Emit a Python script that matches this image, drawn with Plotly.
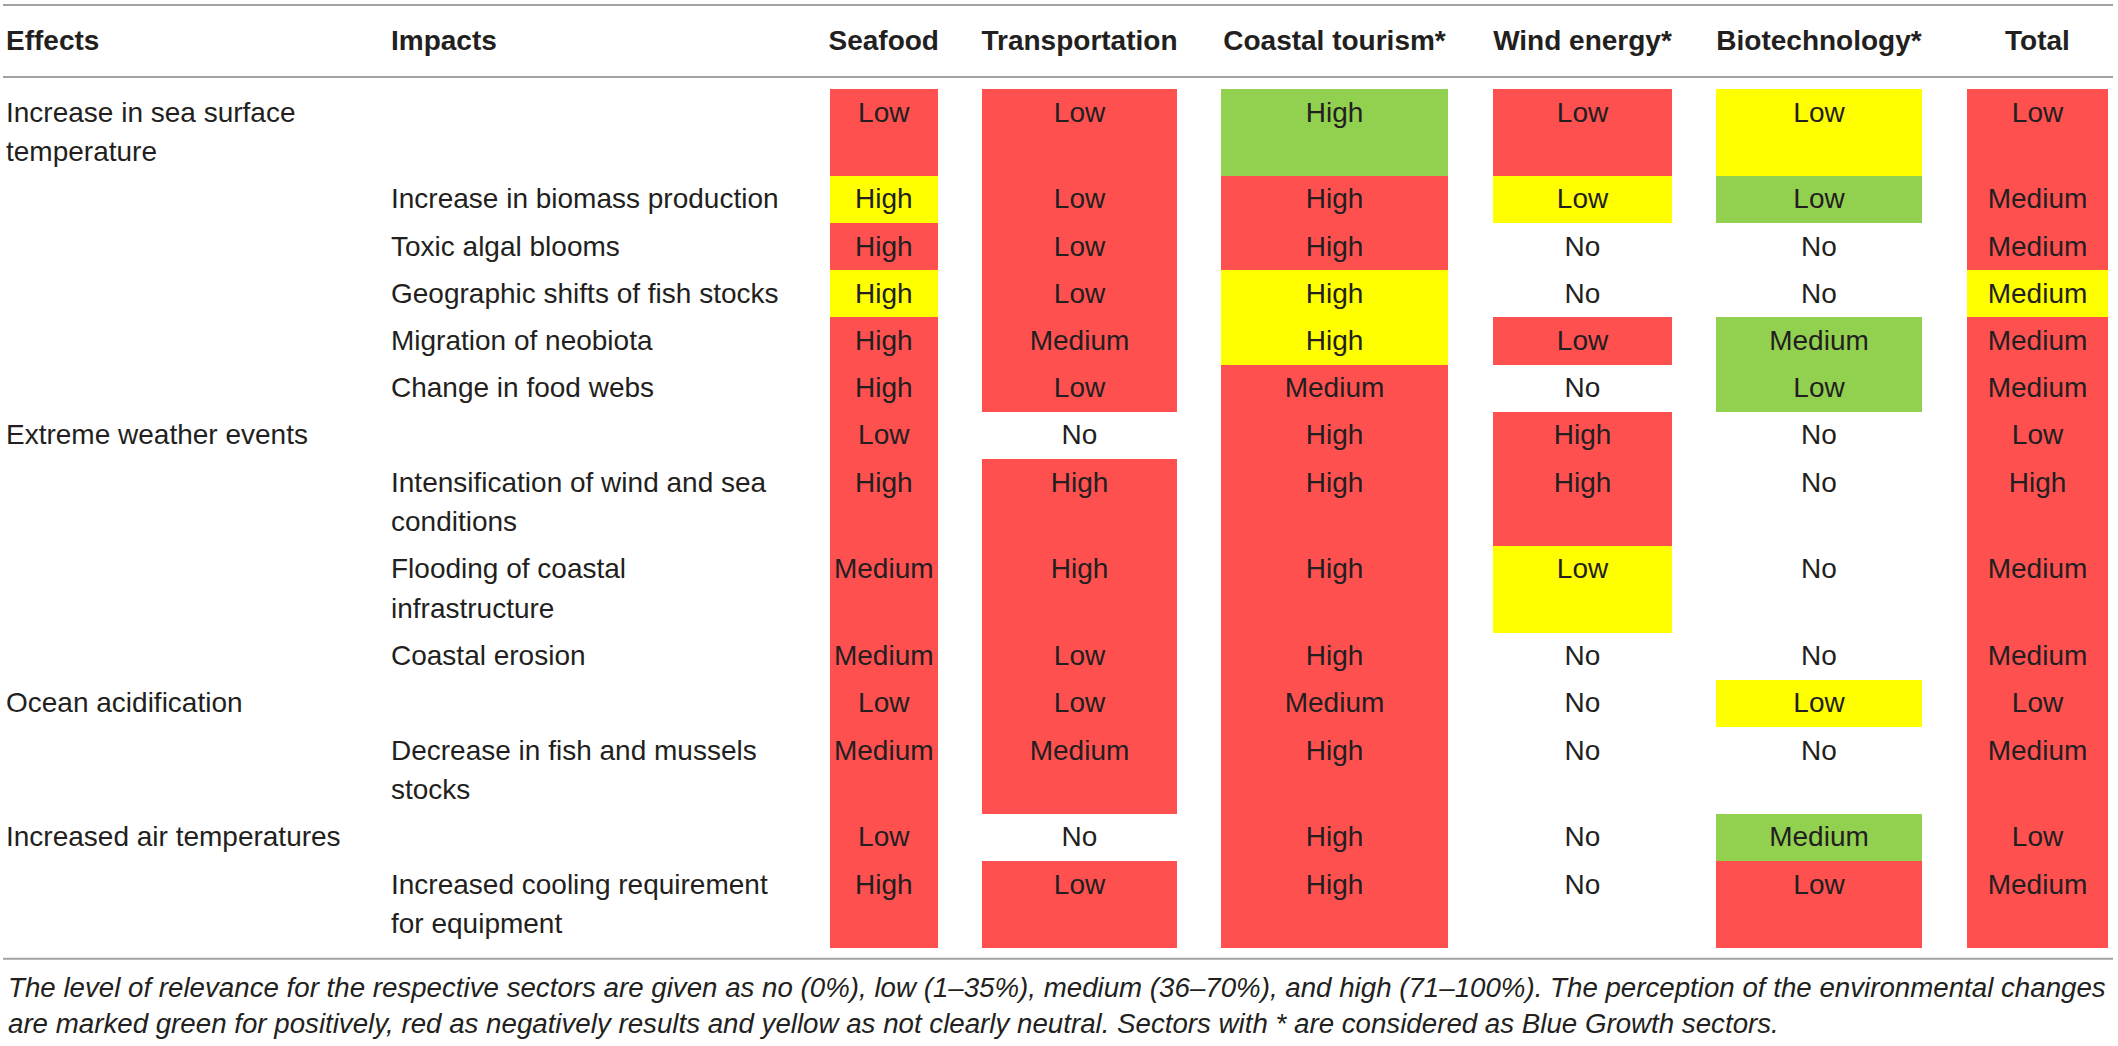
import plotly.graph_objects as go

# Table content
sectors = ["Seafood", "Transportation", "Coastal tourism*", "Wind energy*", "Biotechnology*", "Total"]

effects = ["Increase in sea surface<br>temperature", "", "", "", "", "",
           "Extreme weather events", "", "", "",
           "Ocean acidification", "",
           "Increased air temperatures", ""]

impacts = ["", "Increase in biomass production", "Toxic algal blooms",
           "Geographic shifts of fish stocks", "Migration of neobiota", "Change in food webs",
           "", "Intensification of wind and sea<br>conditions", "Flooding of coastal<br>infrastructure",
           "Coastal erosion",
           "", "Decrease in fish and mussels<br>stocks",
           "", "Increased cooling requirement<br>for equipment"]

# relevance level per sector
seafood = ["Low", "High", "High", "High", "High", "High", "Low", "High", "Medium", "Medium", "Low", "Medium", "Low", "High"]
transportation = ["Low", "Low", "Low", "Low", "Medium", "Low", "No", "High", "High", "Low", "Low", "Medium", "No", "Low"]
tourism = ["High", "High", "High", "High", "High", "Medium", "High", "High", "High", "High", "Medium", "High", "High", "High"]
wind = ["Low", "Low", "No", "No", "Low", "No", "High", "High", "Low", "No", "No", "No", "No", "No"]
biotech = ["Low", "Low", "No", "No", "Medium", "Low", "No", "No", "No", "No", "Low", "No", "Medium", "Low"]
total = ["Low", "Medium", "Medium", "Medium", "Medium", "Medium", "Low", "High", "Medium", "Medium", "Low", "Medium", "Low", "Medium"]

# perception: neg = red, pos = green, neu = yellow, "" = none
seafood_p = ["neg", "neu", "neg", "neu", "neg", "neg", "neg", "neg", "neg", "neg", "neg", "neg", "neg", "neg"]
transportation_p = ["neg", "neg", "neg", "neg", "neg", "neg", "", "neg", "neg", "neg", "neg", "neg", "", "neg"]
tourism_p = ["pos", "neg", "neg", "neu", "neu", "neg", "neg", "neg", "neg", "neg", "neg", "neg", "neg", "neg"]
wind_p = ["neg", "neu", "", "", "neg", "", "neg", "neg", "neu", "", "", "", "", ""]
biotech_p = ["neu", "pos", "", "", "pos", "pos", "", "", "", "", "neu", "", "pos", "neg"]
total_p = ["neg", "neg", "neg", "neu", "neg", "neg", "neg", "neg", "neg", "neg", "neg", "neg", "neg", "neg"]

levels = [seafood, transportation, tourism, wind, biotech, total]
perceptions = [seafood_p, transportation_p, tourism_p, wind_p, biotech_p, total_p]

caption = ("The level of relevance for the respective sectors are given as no (0%), low (1–35%), "
           "medium (36–70%), and high (71–100%). The perception of the environmental changes<br>"
           "are marked green for positively, red as negatively results and yellow as not clearly "
           "neutral. Sectors with * are considered as Blue Growth sectors.")

# colours / layout
colors = {"neg": "#ff5050", "pos": "#92d050", "neu": "#ffff00", "": "rgba(0,0,0,0)"}
txt = "#231f20"
rule = "#a3a3a3"
W, H = 2118, 1046
col_edges = [(830, 937.5), (982, 1177), (1221, 1448), (1493, 1672), (1716, 1922), (1967, 2108)]
x_effect, x_impact = 6, 391
header_y = 43
table_top = 89
first_line = 23.6
line_gap = 39.6
text_dy = 2

# row geometry from the number of text lines
n_lines = [max(e.count("<br>"), i.count("<br>")) + 1 for e, i in zip(effects, impacts)]
heights = [2 * first_line + (n - 1) * line_gap for n in n_lines]
tops = []
y = table_top
for h in heights:
    tops.append(y)
    y += h
table_bottom = y + 11

fig = go.Figure()

# coloured cells
for (x0, x1), perc in zip(col_edges, perceptions):
    fig.add_trace(go.Bar(
        x=[(x0 + x1) / 2] * len(perc),
        y=heights,
        base=tops,
        width=x1 - x0,
        marker=dict(color=[colors[p] for p in perc], line=dict(width=0)),
        hoverinfo="skip",
        showlegend=False
    ))

body_font = dict(family="Liberation Sans, Arial, sans-serif", size=28, color=txt)

# cell values
for (x0, x1), lev in zip(col_edges, levels):
    fig.add_trace(go.Scatter(
        x=[(x0 + x1) / 2] * len(lev),
        y=[t + first_line + text_dy for t in tops],
        mode="text",
        text=lev,
        textposition="middle center",
        textfont=body_font,
        hoverinfo="skip",
        showlegend=False,
        cliponaxis=False
    ))

# left hand label columns, one point per text line
for labels, xpos in [(effects, x_effect), (impacts, x_impact)]:
    xs, ys, ts = [], [], []
    for lab, t in zip(labels, tops):
        if not lab:
            continue
        for k, part in enumerate(lab.split("<br>")):
            xs.append(xpos)
            ys.append(t + first_line + text_dy + k * line_gap)
            ts.append(part)
    fig.add_trace(go.Scatter(
        x=xs, y=ys, mode="text", text=ts,
        textposition="middle right",
        textfont=body_font,
        hoverinfo="skip",
        showlegend=False,
        cliponaxis=False
    ))

# header
head_font = dict(family="Liberation Sans, Arial, sans-serif", size=28, color=txt, weight="bold")
fig.add_trace(go.Scatter(
    x=[x_effect, x_impact], y=[header_y, header_y], mode="text",
    text=["Effects", "Impacts"], textposition="middle right",
    textfont=head_font, hoverinfo="skip", showlegend=False, cliponaxis=False
))
fig.add_trace(go.Scatter(
    x=[(a + b) / 2 for a, b in col_edges], y=[header_y] * len(sectors), mode="text",
    text=sectors, textposition="middle center",
    textfont=head_font, hoverinfo="skip", showlegend=False, cliponaxis=False
))

# horizontal rules
for yy in [5, 77, table_bottom]:
    fig.add_shape(type="line", x0=3, x1=2113, y0=yy, y1=yy,
                  line=dict(color=rule, width=2), layer="above")

fig.add_annotation(
    x=x_effect, y=table_bottom + 47, xref="x", yref="y",
    xanchor="left", yanchor="middle", align="left", showarrow=False,
    text=caption,
    font=dict(family="Liberation Sans, Arial, sans-serif", size=27.7, color=txt, style="italic")
)

fig.update_layout(
    width=W, height=H,
    margin=dict(l=0, r=0, t=0, b=0),
    paper_bgcolor="white", plot_bgcolor="white",
    barmode="overlay", bargap=0,
    xaxis=dict(range=[0, W], visible=False, fixedrange=True),
    yaxis=dict(range=[H, 0], visible=False, fixedrange=True),
)

# the page body has a default margin; drop it so the figure fills the window
fig.write_html("out.html", config={"displayModeBar": False},
               post_script="document.body.style.margin='0';")
